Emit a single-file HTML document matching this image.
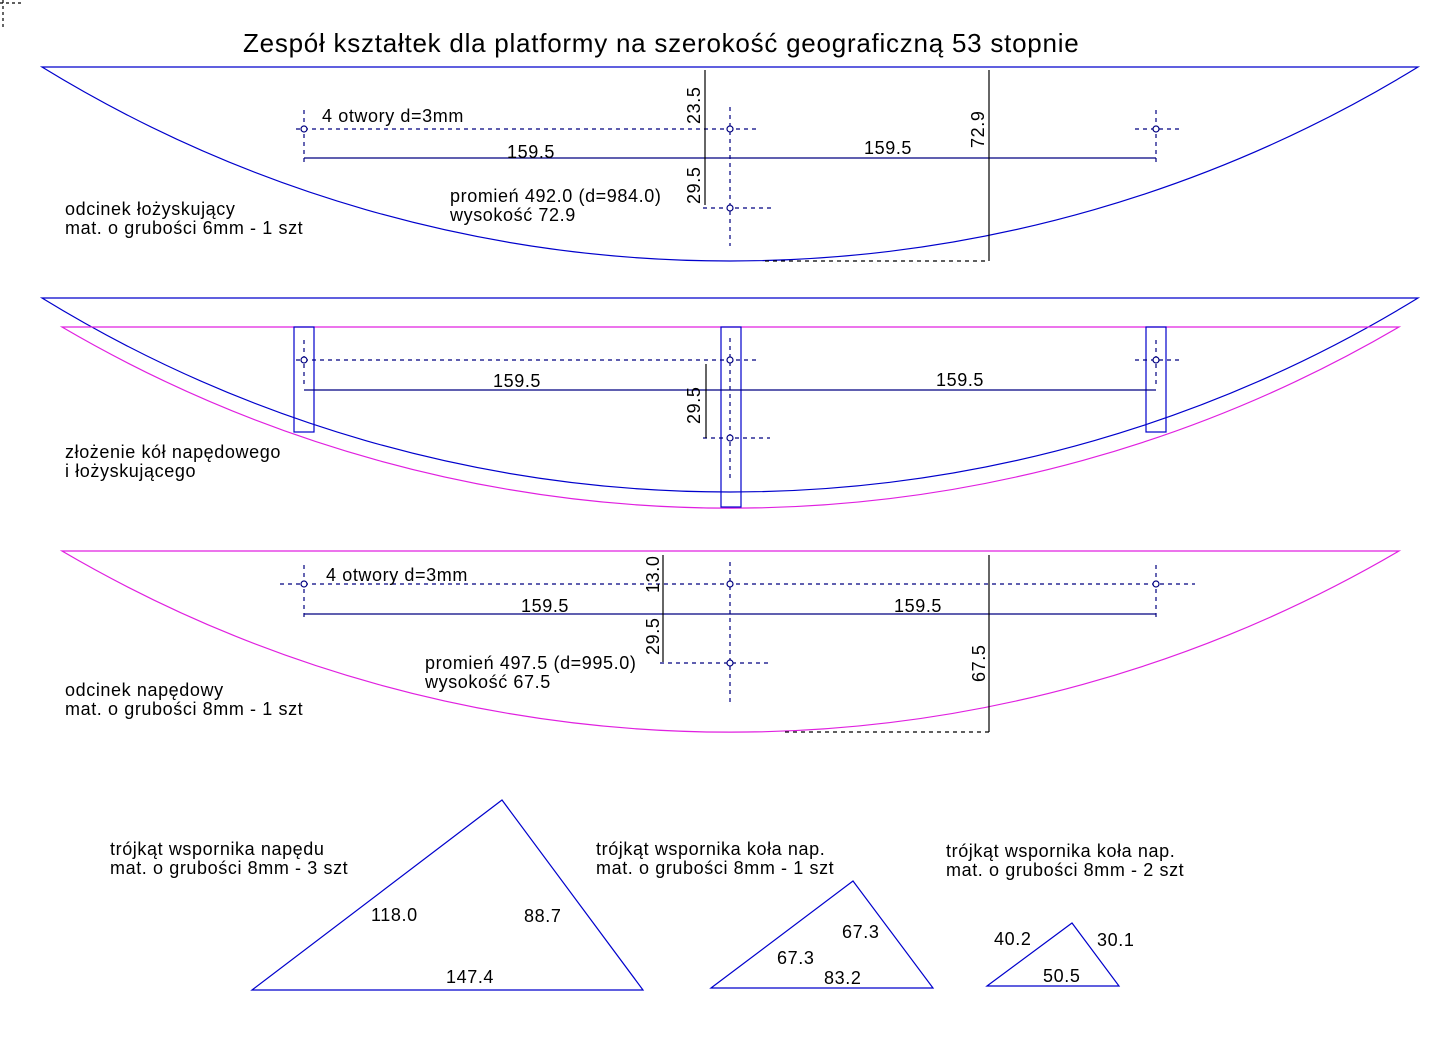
<!DOCTYPE html>
<html><head><meta charset="utf-8"><style>
html,body{margin:0;padding:0;background:#fff;}
svg{display:block;}
text{font-family:"Liberation Sans",Arial,sans-serif;font-size:18px;letter-spacing:0.6px;fill:#000;}
</style></head><body>
<svg width="1451" height="1045" viewBox="0 0 1451 1045" xmlns="http://www.w3.org/2000/svg">
<g fill="none" stroke-width="1.2">
<path d="M0 3 H22 M3 0 V28" stroke="#000" stroke-dasharray="3,3"/>

<path d="M42 67 H1418 A1317 1317 0 0 1 42 67 Z" stroke="#0000cc"/>
<g stroke="#000080" stroke-dasharray="4,4">
<line x1="296" y1="129" x2="757" y2="129"/>
<line x1="1135" y1="129" x2="1180" y2="129"/>
<line x1="304" y1="110" x2="304" y2="165"/>
<line x1="1156" y1="110" x2="1156" y2="165"/>
<line x1="730" y1="107" x2="730" y2="246"/>
<line x1="703" y1="208" x2="772" y2="208"/>
<line x1="765" y1="261" x2="989" y2="261" stroke="#000"/>
</g>
<line x1="304" y1="158" x2="1156" y2="158" stroke="#000080"/>
<line x1="705" y1="70" x2="705" y2="205" stroke="#000"/>
<line x1="989" y1="70" x2="989" y2="261" stroke="#000"/>
<g stroke="#000080" fill="#fff"><circle cx="304" cy="129" r="3"/><circle cx="730" cy="129" r="3"/><circle cx="1156" cy="129" r="3"/><circle cx="730" cy="208" r="3"/></g>

<path d="M42 298 H1418 A1317 1317 0 0 1 42 298 Z" stroke="#0000cc"/>
<path d="M62 327 H1399 A1324 1324 0 0 1 62 327 Z" stroke="#e020e0"/>
<rect x="294" y="327" width="20" height="105" stroke="#0000cc"/>
<rect x="721" y="327" width="20" height="180" stroke="#0000cc"/>
<rect x="1146" y="327" width="20" height="105" stroke="#0000cc"/>
<g stroke="#000080" stroke-dasharray="4,4">
<line x1="296" y1="360" x2="757" y2="360"/>
<line x1="1135" y1="360" x2="1180" y2="360"/>
<line x1="304" y1="340" x2="304" y2="385"/>
<line x1="1156" y1="340" x2="1156" y2="385"/>
<line x1="730" y1="338" x2="730" y2="480"/>
<line x1="703" y1="438" x2="770" y2="438"/>
</g>
<line x1="304" y1="390" x2="1156" y2="390" stroke="#000080"/>
<line x1="706" y1="364" x2="706" y2="438" stroke="#000"/>
<g stroke="#000080" fill="#fff"><circle cx="304" cy="360" r="3"/><circle cx="730" cy="360" r="3"/><circle cx="1156" cy="360" r="3"/><circle cx="730" cy="438" r="3"/></g>

<path d="M62 551 H1399 A1324 1324 0 0 1 62 551 Z" stroke="#e020e0"/>
<g stroke="#000080" stroke-dasharray="4,4">
<line x1="280" y1="584" x2="1195" y2="584"/>
<line x1="304" y1="565" x2="304" y2="620"/>
<line x1="1156" y1="565" x2="1156" y2="620"/>
<line x1="730" y1="562" x2="730" y2="702"/>
<line x1="660" y1="663" x2="770" y2="663"/>
<line x1="785" y1="732" x2="989" y2="732" stroke="#000"/>
</g>
<line x1="304" y1="614" x2="1156" y2="614" stroke="#000080"/>
<line x1="663" y1="555" x2="663" y2="662" stroke="#000"/>
<line x1="989" y1="555" x2="989" y2="732" stroke="#000"/>
<g stroke="#000080" fill="#fff"><circle cx="304" cy="584" r="3"/><circle cx="730" cy="584" r="3"/><circle cx="1156" cy="584" r="3"/><circle cx="730" cy="663" r="3"/></g>

<polygon points="252,990 502,800 643,990" stroke="#0000cc"/>
<polygon points="711,988 853,881 933,988" stroke="#0000cc"/>
<polygon points="987,986 1072,923 1119,986" stroke="#0000cc"/>
</g>

<text x="243" y="52" style="font-size:26px;letter-spacing:0.75px">Zespół kształtek dla platformy na szerokość geograficzną 53 stopnie</text>

<text x="322" y="122">4 otwory d=3mm</text>
<text x="507" y="158">159.5</text>
<text x="864" y="154">159.5</text>
<text x="450" y="202">promień 492.0 (d=984.0)</text>
<text x="450" y="221">wysokość 72.9</text>
<text x="65" y="215">odcinek łożyskujący</text>
<text x="65" y="234">mat. o grubości 6mm - 1 szt</text>
<text transform="translate(700,124) rotate(-90)">23.5</text>
<text transform="translate(700,204) rotate(-90)">29.5</text>
<text transform="translate(984,148) rotate(-90)">72.9</text>

<text x="493" y="387">159.5</text>
<text x="936" y="386">159.5</text>
<text transform="translate(700,424) rotate(-90)">29.5</text>
<text x="65" y="458">złożenie kół napędowego</text>
<text x="65" y="477">i łożyskującego</text>

<text x="326" y="581">4 otwory d=3mm</text>
<text x="521" y="612">159.5</text>
<text x="894" y="612">159.5</text>
<text x="425" y="669">promień 497.5 (d=995.0)</text>
<text x="425" y="688">wysokość 67.5</text>
<text x="65" y="696">odcinek napędowy</text>
<text x="65" y="715">mat. o grubości 8mm - 1 szt</text>
<text transform="translate(659,593) rotate(-90)">13.0</text>
<text transform="translate(659,655) rotate(-90)">29.5</text>
<text transform="translate(985,682) rotate(-90)">67.5</text>

<text x="110" y="855">trójkąt wspornika napędu</text>
<text x="110" y="874">mat. o grubości 8mm - 3 szt</text>
<text x="371" y="921">118.0</text>
<text x="524" y="922">88.7</text>
<text x="446" y="983">147.4</text>

<text x="596" y="855">trójkąt wspornika koła nap.</text>
<text x="596" y="874">mat. o grubości 8mm - 1 szt</text>
<text x="842" y="938">67.3</text>
<text x="777" y="964">67.3</text>
<text x="824" y="984">83.2</text>

<text x="946" y="857">trójkąt wspornika koła nap.</text>
<text x="946" y="876">mat. o grubości 8mm - 2 szt</text>
<text x="994" y="945">40.2</text>
<text x="1097" y="946">30.1</text>
<text x="1043" y="982">50.5</text>
</svg>
</body></html>
